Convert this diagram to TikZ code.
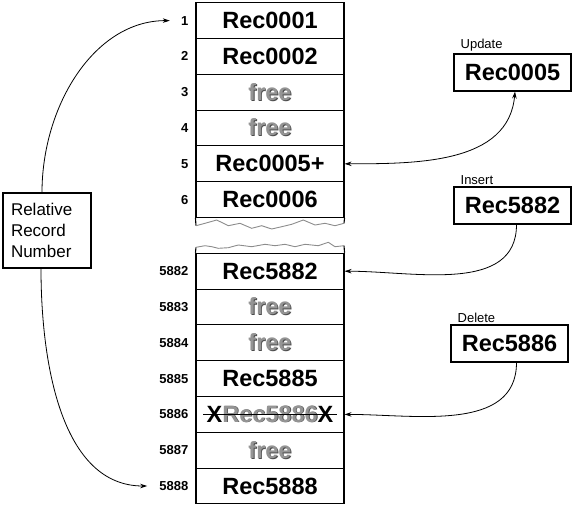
\documentclass[tikz,border=0pt]{standalone}
\usepackage{fontspec}
\setmainfont{Liberation Sans}
\usetikzlibrary{positioning}
\usetikzlibrary{arrows.meta}
\definecolor{freegray}{gray}{0.58}
\definecolor{shadegray}{gray}{0.3}
\definecolor{torngray}{gray}{0.55}
\newcommand\embossed[1]{\makebox[0pt][l]{\hspace{0.9pt}\raisebox{-0.9pt}{\textcolor{shadegray}{#1}}}\textcolor{freegray}{#1}}
\tikzset{
  row/.style= {draw, line width=1.1pt, minimum width=148pt, minimum height=35.8pt, inner sep=0pt, font=\fontsize{23.5}{26}\selectfont\bfseries},
  num/.style= {font=\fontsize{13}{15}\selectfont\bfseries, inner sep=0pt},
  opbox/.style= {draw, line width=1.1pt, minimum width=117pt, minimum height=37pt, inner sep=0pt, font=\fontsize{23.5}{26}\selectfont\bfseries},
  oplabel/.style= {font=\fontsize{13}{15}\selectfont, inner sep=0pt},
  rrnbox/.style= {draw, line width=1.1pt, text width=72pt, minimum height=75pt, inner sep=8pt, align=left, font=\fontsize{17}{21.3}\selectfont},
  link/.style= {line width=0.8pt, >={Stealth[length=7pt,width=4.5pt]}},
  torn/.style= {draw=torngray, line width=0.9pt},
}

\begin{document}
\begin{tikzpicture}[x=1pt, y=-1pt]
  \useasboundingbox (0,0) rectangle (575,509) ;

  % upper part of the file
  \node [row] (r1) at (270,20.6) {Rec0001} ;
  \node [row] (r2) at (270,56.4) {Rec0002} ;
  \node [row] (r3) at (270,92.2) {\embossed{free}} ;
  \node [row] (r4) at (270,128.0) {\embossed{free}} ;
  \node [row] (r5) at (270,163.8) {Rec0005+} ;
  \node [row] (r6) at (270,199.6) {Rec0006} ;

  % lower part of the file
  \node [row] (r5882) at (270,271.2) {Rec5882} ;
  \node [row] (r5883) at (270,307.0) {\embossed{free}} ;
  \node [row] (r5884) at (270,342.8) {\embossed{free}} ;
  \node [row] (r5885) at (270,378.6) {Rec5885} ;
  \node [row] (r5886) at (270,414.4) {} ;
  \node [row] (r5887) at (270,450.2) {\embossed{free}} ;
  \node [row] (r5888) at (270,486.0) {Rec5888} ;

  \node [row, draw=none] (deleted) at (r5886) {X\embossed{Rec5886}X} ;
  \draw [line width=0.9pt] ([xshift=8pt]deleted.west) -- ([xshift=-8pt]deleted.east) ;

  % torn edges
  \draw [line width=1.1pt] (r6.south west) -- (196,225.7) ;
  \draw [line width=1.1pt] (r6.south east) -- (344,223.3) ;
  \draw [torn] (196,225.7) -- (205,223.3) -- (216.7,220) -- (228.3,225.7) -- (240,223.3)
    -- (251.7,228.3) -- (261.7,225.7) -- (271.7,229) -- (281.7,226.7) -- (291.7,224.3)
    -- (303.3,220) -- (315,225) -- (325,223.3) -- (335,225.7) -- (344,223.3) ;
  \draw [line width=1.1pt] (r5882.north west) -- (196,247.3) ;
  \draw [line width=1.1pt] (r5882.north east) -- (344,245.7) ;
  \draw [torn] (196,247.3) -- (205,245.7) -- (211.7,246.7) -- (218.3,248.3) -- (228.3,247.7)
    -- (238.3,245) -- (251.7,246.7) -- (265,244.3) -- (275,245.7) -- (285,244.3)
    -- (295,246.7) -- (305,244.3) -- (318.3,245.7) -- (328.3,242.3) -- (335,246.7) -- (344,245.7) ;

  % record numbers
  \node [num, left=7pt of r1] (n1) {1} ;
  \node [num, left=7pt of r2] (n2) {2} ;
  \node [num, left=7pt of r3] (n3) {3} ;
  \node [num, left=7pt of r4] (n4) {4} ;
  \node [num, left=7pt of r5] (n5) {5} ;
  \node [num, left=7pt of r6] (n6) {6} ;
  \node [num, left=7pt of r5882] (n5882) {5882} ;
  \node [num, left=7pt of r5883] (n5883) {5883} ;
  \node [num, left=7pt of r5884] (n5884) {5884} ;
  \node [num, left=7pt of r5885] (n5885) {5885} ;
  \node [num, left=7pt of r5886] (n5886) {5886} ;
  \node [num, left=7pt of r5887] (n5887) {5887} ;
  \node [num, left=7pt of r5888] (n5888) {5888} ;

  \node [rrnbox] (rrn) at (47,230.5) {Relative\\Record\\Number} ;

  % operations
  \node [opbox] (upd) at (512.5,72.5) {Rec0005} ;
  \node [opbox] (ins) at (512.5,205.5) {Rec5882} ;
  \node [opbox] (del) at (509.5,343.5) {Rec5886} ;
  \node [oplabel, above right=2pt and 7pt of upd.north west] (updlabel) {Update} ;
  \node [oplabel, above right=2pt and 7pt of ins.north west] (inslabel) {Insert} ;
  \node [oplabel, above right=2pt and 7pt of del.north west] (dellabel) {Delete} ;

  \draw [link, ->, shorten >=11pt] ([xshift=-5pt]rrn.north) to[out=90, in=180] (n1.west) ;
  \draw [link, ->, shorten >=12pt] ([xshift=-6pt]rrn.south) to[out=-90, in=180] (n5888.west) ;
  \draw [link, <->] (r5.east) to[out=0, in=-95] ([xshift=2.5pt]upd.south) ;
  \draw [link, ->] ([xshift=4pt]ins.south) to[out=-90, in=0] (r5882.east) ;
  \draw [link, ->] ([xshift=7pt]del.south) to[out=-90, in=0] (r5886.east) ;
\end{tikzpicture}
\end{document}
